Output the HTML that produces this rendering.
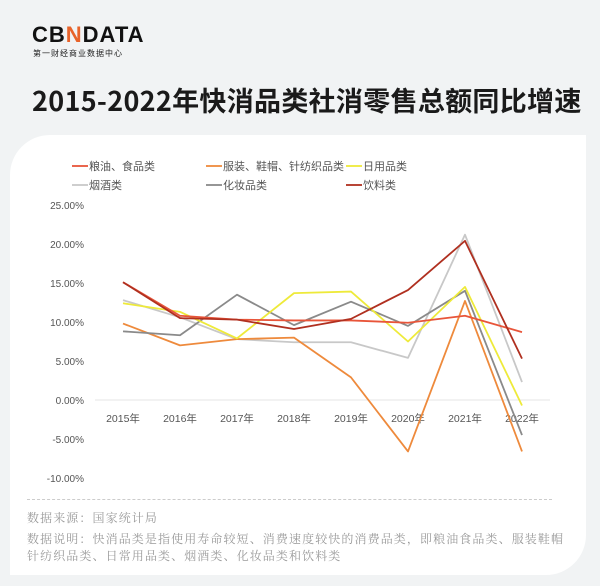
<!DOCTYPE html>
<html><head><meta charset="utf-8"><style>
body{margin:0;width:600px;height:586px;background:#f1f3f4;font-family:"Liberation Sans","Noto Sans CJK SC",sans-serif;position:relative;overflow:hidden}
.logo{position:absolute;left:32px;top:22px;font-size:22px;font-weight:bold;letter-spacing:1px;color:#111}
.logo span{color:#e8632a}
.sub{position:absolute;left:33px;top:48px;font-size:8px;color:#222;letter-spacing:1px}
h1{position:absolute;left:32px;top:80px;margin:0;font-size:27px;font-weight:bold;color:#1a1a1a;font-family:"Noto Sans CJK SC",sans-serif;letter-spacing:0.3px}
.card{position:absolute;left:10px;top:135px;width:576px;height:440px;background:#fff;border-radius:40px 0 40px 0}
.foot{position:absolute;left:27px;font-size:12px;color:#9a9a9a;font-family:"Noto Serif CJK SC",serif;line-height:17px;width:550px;letter-spacing:1.1px}
</style></head><body>
<div class="logo">CB<span>N</span>DATA</div>
<div class="sub">第一财经商业数据中心</div>
<h1>2015-2022年快消品类社消零售总额同比增速</h1>
<div class="card"></div>
<svg id="chart" width="600" height="586" style="position:absolute;left:0;top:0"></svg>
<div style="position:absolute;left:27px;top:499px;width:525px;border-top:1px dashed #ccc"></div>
<div class="foot" style="top:509px">数据来源：国家统计局</div>
<div class="foot" style="top:530px">数据说明：快消品类是指使用寿命较短、消费速度较快的消费品类，即粮油食品类、服装鞋帽针纺织品类、日常用品类、烟酒类、化妆品类和饮料类</div>
<script>
const categories=["2015年","2016年","2017年","2018年","2019年","2020年","2021年","2022年"];
const yTicks=[25,20,15,10,5,0,-5,-10];
const seriesNames=["粮油、食品类","服装、鞋帽、针纺织品类","日用品类","烟酒类","化妆品类","饮料类"];
const seriesColors=["#e8553a","#ee8a3c","#eeea3a","#c8c8c8","#8a8a8a","#b03020"];
const grain=[15.1,10.8,10.3,10.2,10.2,9.9,10.8,8.7];
const clothing=[9.8,7.0,7.8,8.0,2.9,-6.6,12.7,-6.6];
const daily=[12.4,11.3,7.9,13.7,13.9,7.5,14.5,-0.7];
const tobacco=[12.8,10.6,7.8,7.4,7.4,5.4,21.2,2.3];
const cosmetics=[8.8,8.3,13.5,9.6,12.6,9.5,14.0,-4.5];
const beverage=[15.1,10.5,10.3,9.1,10.4,14.1,20.4,5.3];
const seriesData=[grain,clothing,daily,tobacco,cosmetics,beverage];
const drawOrder=[3,1,4,2,0,5];
const svg=document.getElementById('chart');
const NS='http://www.w3.org/2000/svg';
const x=i=>123+i*57;
const y=v=>400-v*7.8;
function mk(t,a){const e=document.createElementNS(NS,t);for(const k in a)e.setAttribute(k,a[k]);svg.appendChild(e);return e;}
const ax=mk('line',{x1:95,x2:550,y1:y(0),y2:y(0),stroke:'#e6e6e6','stroke-width':1});


yTicks.forEach(v=>{const t=mk('text',{x:84,y:y(v)+4,'text-anchor':'end','font-size':10,fill:'#555'});t.textContent=v.toFixed(2)+'%';

});
categories.forEach((c,i)=>{const t=mk('text',{x:x(i),y:422,'text-anchor':'middle','font-size':10.5,fill:'#555'});t.textContent=c;

});
drawOrder.forEach(s=>{const p=mk('polyline',{points:seriesData[s].map((v,i)=>x(i)+','+y(v)).join(' '),fill:'none',stroke:seriesColors[s],'stroke-width':1.8,'stroke-linejoin':'round'});

});
const lx=[88,222,362],ly=[166,185];
seriesNames.forEach((n,s)=>{const cx=lx[s%3],cy=ly[Math.floor(s/3)];
const l=mk('line',{x1:cx-16,x2:cx,y1:cy,y2:cy,stroke:seriesColors[s],'stroke-width':1.8});


const t=mk('text',{x:cx+1,y:cy+4,'font-size':11,fill:'#555'});t.textContent=n;

});
</script>
</body></html>
